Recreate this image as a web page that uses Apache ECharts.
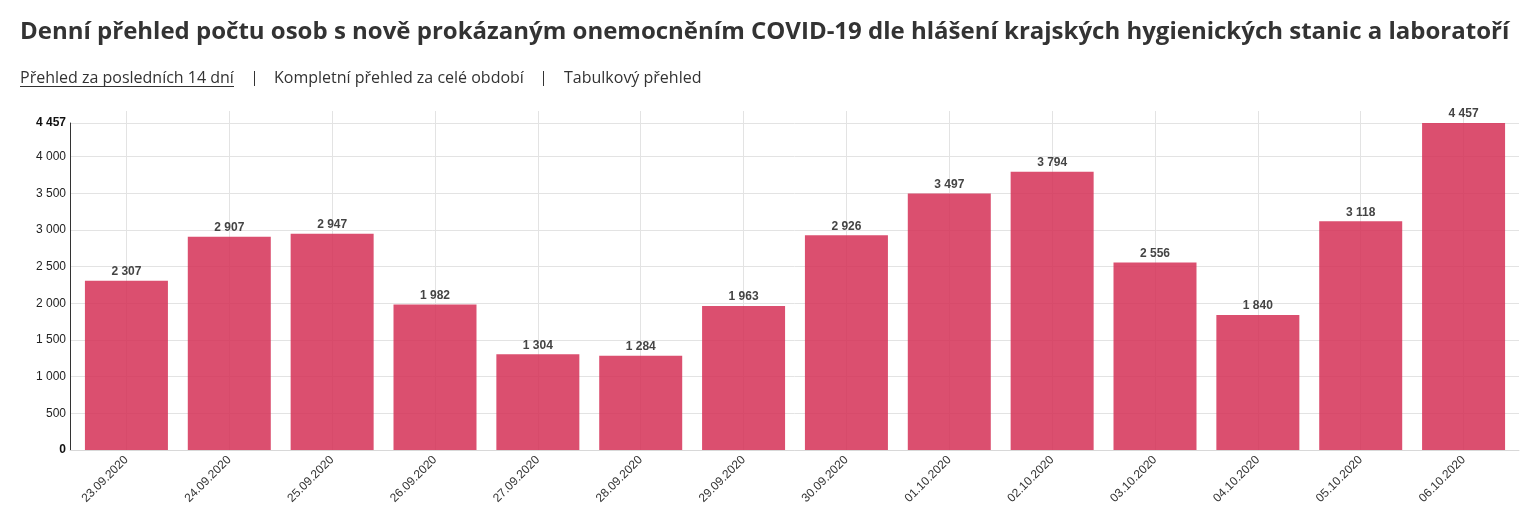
<!DOCTYPE html>
<html>
<head>
<meta charset="utf-8">
<script src="https://cdn.jsdelivr.net/npm/echarts@6/dist/echarts.min.js"></script>
<style>
html,body{margin:0;padding:0;background:#fff;}
#chart{width:1537px;height:518px;}
</style>
</head>
<body>
<div id="chart"></div>
<script>
var titleText = 'Denní přehled počtu osob s nově prokázaným onemocněním COVID-19 dle hlášení krajských hygienických stanic a laboratoří';
var linkTexts = ['Přehled za posledních 14 dní', 'Kompletní přehled za celé období', 'Tabulkový přehled'];
var categories = ['23.09.2020','24.09.2020','25.09.2020','26.09.2020','27.09.2020','28.09.2020','29.09.2020','30.09.2020','01.10.2020','02.10.2020','03.10.2020','04.10.2020','05.10.2020','06.10.2020'];
var cases = [2307, 2907, 2947, 1982, 1304, 1284, 1963, 2926, 3497, 3794, 2556, 1840, 3118, 4457];
var yMax = 4457;
var yInterval = 500;

function fmt(v){
  return String(Math.round(v)).replace(/\B(?=(\d{3})+(?!\d))/g, ' ');
}

var chart = echarts.init(document.getElementById('chart'), null, {renderer:'canvas'});
var TOP = 123, BOTTOM = 68;
var option = {
  animation: false,
  backgroundColor: '#fff',
  graphic: [
    {type:'text', x:20, y:32, style:{text:titleText, font:'bold 24px "Open Sans"', fill:'#333', verticalAlign:'middle'}},
    {type:'text', x:20, y:78, style:{text:linkTexts[0], font:'16px "Open Sans"', fill:'#333', verticalAlign:'middle'}},
    {type:'rect', shape:{x:20, y:86, width:214, height:1}, style:{fill:'#333'}},
    {type:'rect', shape:{x:254, y:71, width:1, height:15}, style:{fill:'#333'}},
    {type:'text', x:274, y:78, style:{text:linkTexts[1], font:'16px "Open Sans"', fill:'#333', verticalAlign:'middle'}},
    {type:'rect', shape:{x:543, y:71, width:1, height:15}, style:{fill:'#333'}},
    {type:'text', x:564, y:78, style:{text:linkTexts[2], font:'16px "Open Sans"', fill:'#333', verticalAlign:'middle'}}
  ],
  grid: [
    {left:70, right:18, top:TOP, bottom:BOTTOM, outerBoundsMode:'none', containLabel:false},
    {left:75, right:22, top:TOP, bottom:BOTTOM, outerBoundsMode:'none', containLabel:false},
    {left:75, right:22, top:111, bottom:BOTTOM, outerBoundsMode:'none', containLabel:false}
  ],
  xAxis: [
    {gridIndex:0, type:'value', min:0, max:1, axisLine:{show:true, lineStyle:{color:'#d8d8d8'}}, axisTick:{show:false}, axisLabel:{show:false}, splitLine:{show:false}},
    {gridIndex:1, type:'category', data:categories, axisLine:{show:false}, axisTick:{show:false},
      axisLabel:{rotate:45, interval:0, margin:8, color:'#333', fontSize:12, fontFamily:'"Liberation Sans", Arial, sans-serif'},
      splitLine:{show:false}},
    {gridIndex:2, type:'value', min:0, max:categories.length, interval:0.5, axisLine:{show:false}, axisTick:{show:false}, axisLabel:{show:false},
      splitLine:{show:true, lineStyle:{color:['rgba(0,0,0,0)','#e3e3e3'], width:1}}}
  ],
  yAxis: [
    {gridIndex:0, type:'value', min:0, max:yMax, interval:yInterval,
      axisLine:{show:true, lineStyle:{color:'#333'}}, axisTick:{show:false},
      axisLabel:{margin:4, color:'#222', fontSize:12, fontFamily:'"Liberation Sans", Arial, sans-serif',
        formatter:function(v){ var s = fmt(v); return (v===0 || v===yMax) ? '{b|'+s+'}' : s; },
        rich:{b:{fontWeight:'bold', color:'#111', fontSize:12, fontFamily:'"Liberation Sans", Arial, sans-serif'}}},
      splitLine:{show:true, lineStyle:{color:'#e3e3e3'}}},
    {gridIndex:1, type:'value', min:0, max:yMax, show:false},
    {gridIndex:2, type:'value', min:0, max:1, show:false}
  ],
  series: [{
    type:'bar', xAxisIndex:1, yAxisIndex:1, data:cases, barWidth:83,
    itemStyle:{color:'rgba(212,45,84,0.84)'},
    label:{show:true, position:'top', distance:3, color:'#444', fontWeight:'bold', fontSize:12,
      fontFamily:'"Liberation Sans", Arial, sans-serif', formatter:function(p){return fmt(p.value);}}
  }]
};
chart.setOption(option);
</script>
</body>
</html>
